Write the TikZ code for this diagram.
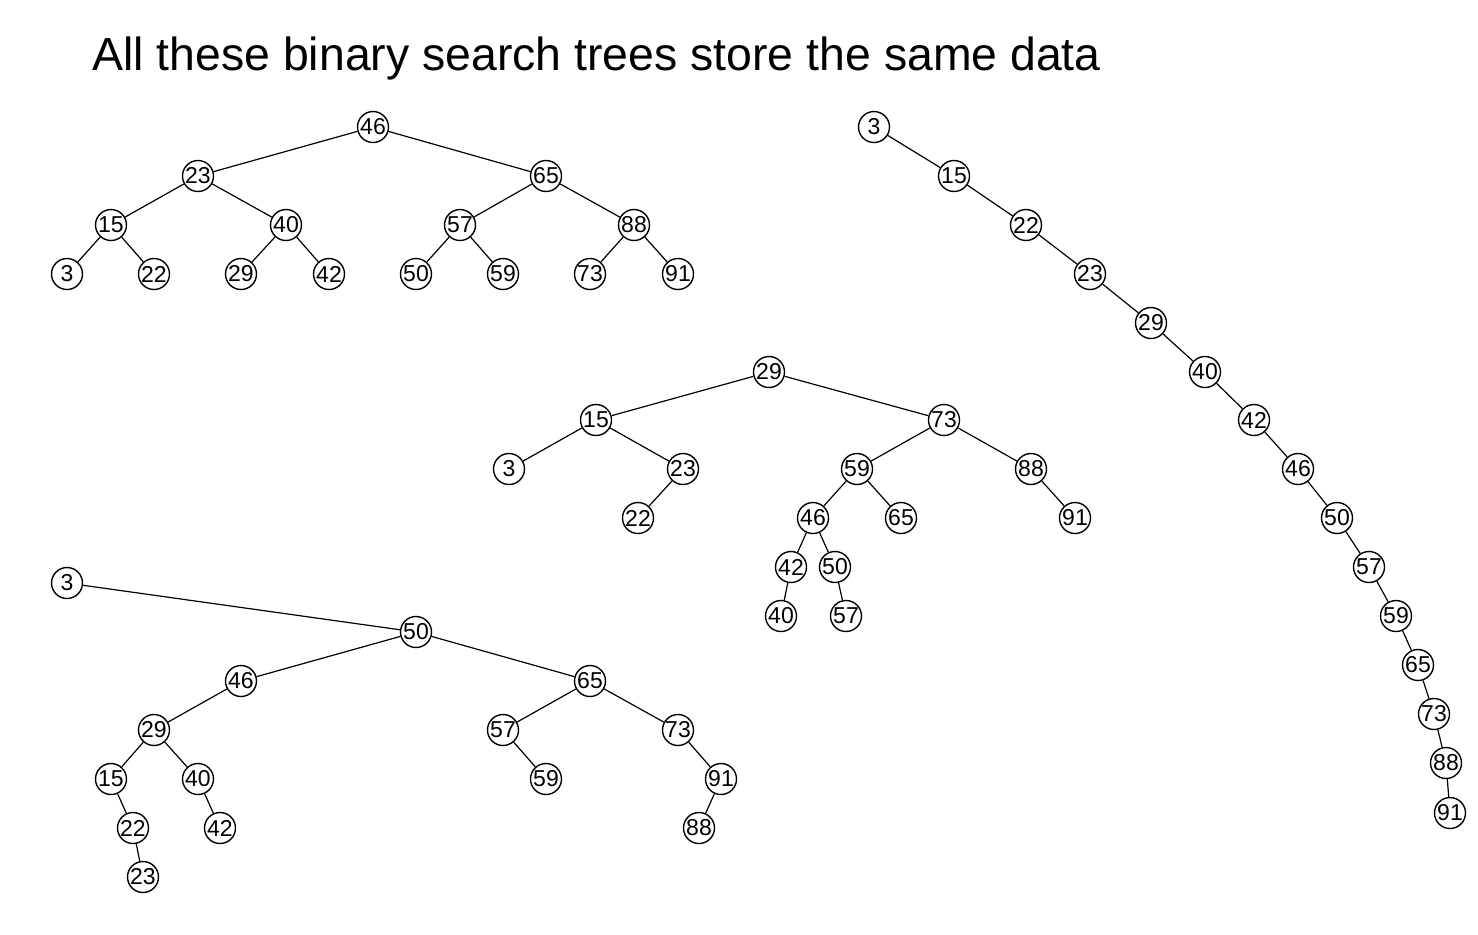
\documentclass[tikz,border=0pt]{standalone}
\usepackage{fontspec}
\setmainfont{Liberation Sans}
\usetikzlibrary{positioning}

\begin{document}
\begin{tikzpicture}[x=0.5pt, y=-0.5pt,
    key/.style={circle, draw, line width=0.7pt, minimum size=15.5pt, inner sep=0pt, font=\fontsize{11.5}{13}\selectfont},
    link/.style={line width=0.6pt}]
    \useasboundingbox (0,0) rectangle (1478,934);

    % Title
    \node[anchor=base west, inner sep=0pt, font=\fontsize{23.2}{28}\selectfont] (title) at (92,70) {All these binary search trees store the same data};

    % Balanced tree
    \foreach \k/\x/\y in {46/373/127, 23/198/176, 65/546/176, 15/111/225, 40/286/225, 57/460/225, 88/634/225,
        3/67/274, 22/154/274, 29/241/274, 42/329/274, 50/416/274, 59/503/274, 73/590/274, 91/678/274}
        \node[key] (a\k) at (\x,\y) {\k};
    \foreach \p/\c in {46/23, 46/65, 23/15, 23/40, 65/57, 65/88, 15/3, 15/22, 40/29, 40/42, 57/50, 57/59, 88/73, 88/91}
        \draw[link] (a\p) -- (a\c);

    % Degenerate chain
    \foreach \k/\x/\y in {3/874/127, 15/954/176, 22/1026/225, 23/1090/274, 29/1151/323, 40/1205/372, 42/1254/420,
        46/1298/469, 50/1337/518, 57/1369/567, 59/1396/616, 65/1418/665, 73/1434/714, 88/1446/763, 91/1450/813}
        \node[key] (b\k) at (\x,\y) {\k};
    \foreach \p/\c in {3/15, 15/22, 22/23, 23/29, 29/40, 40/42, 42/46, 46/50, 50/57, 57/59, 59/65, 65/73, 73/88, 88/91}
        \draw[link] (b\p) -- (b\c);

    % Middle tree
    \foreach \k/\x/\y in {29/769/372, 15/596/420, 73/944/420, 3/509/469, 23/683/469, 59/857/469, 88/1031/469,
        22/638/518, 46/813/518, 65/901/518, 91/1075/518, 42/791/567, 50/835/567, 40/781/616, 57/846/616}
        \node[key] (c\k) at (\x,\y) {\k};
    \foreach \p/\c in {29/15, 29/73, 15/3, 15/23, 23/22, 73/59, 73/88, 59/46, 59/65, 88/91, 46/42, 46/50, 42/40, 50/57}
        \draw[link] (c\p) -- (c\c);

    % Bottom tree
    \foreach \k/\x/\y in {3/67/583, 50/416/632, 46/241/681, 65/590/681, 29/154/730, 57/503/730, 73/678/730,
        15/111/779, 40/198/779, 59/546/779, 91/721/779, 22/133/828, 42/220/828, 88/699/828, 23/143/877}
        \node[key] (d\k) at (\x,\y) {\k};
    \foreach \p/\c in {3/50, 50/46, 50/65, 46/29, 29/15, 29/40, 15/22, 22/23, 40/42, 65/57, 65/73, 57/59, 73/91, 91/88}
        \draw[link] (d\p) -- (d\c);
\end{tikzpicture}
\end{document}
